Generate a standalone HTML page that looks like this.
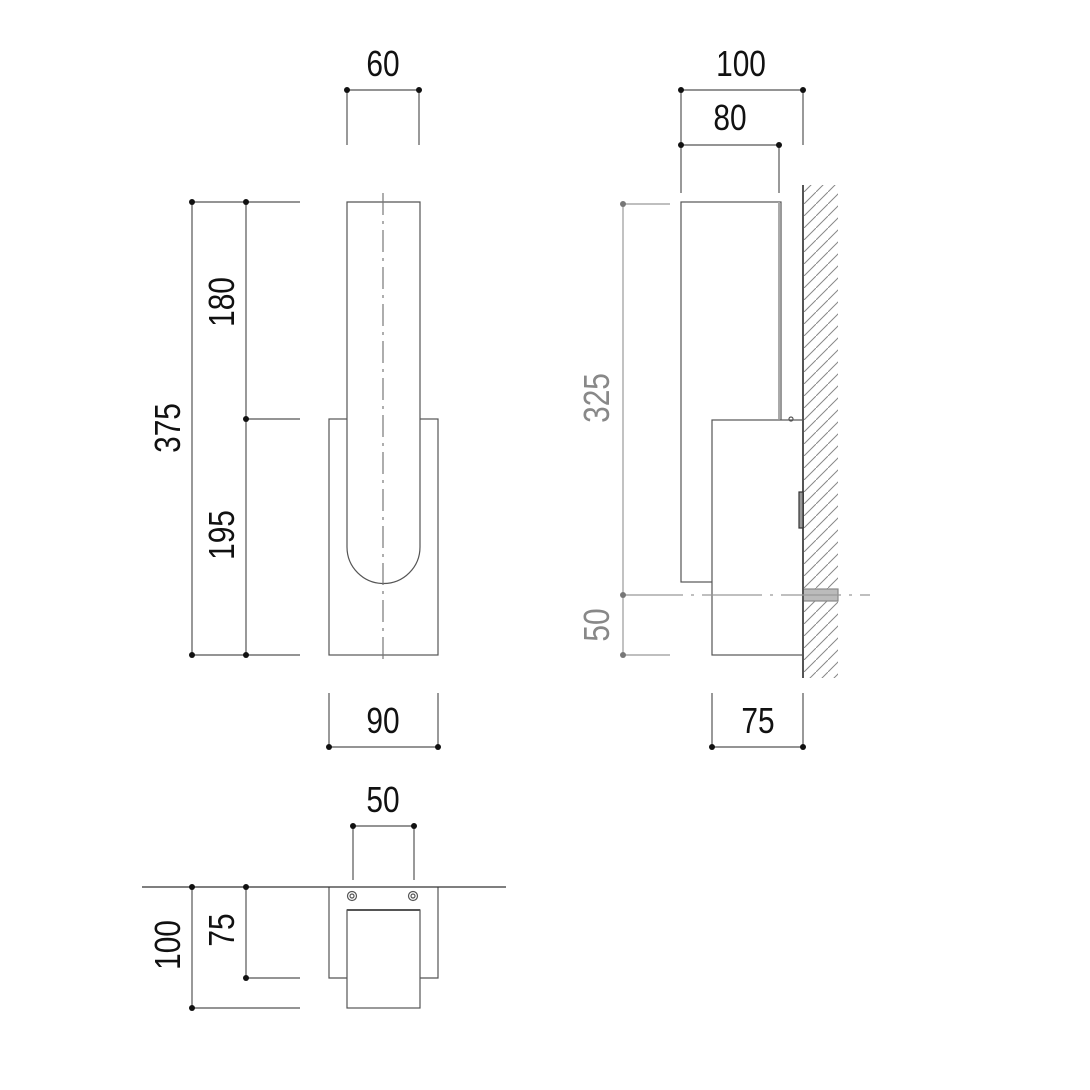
<!DOCTYPE html>
<html><head><style>body{margin:0;background:#fff}svg{display:block}text{font-family:"Liberation Sans",sans-serif;font-size:36px}</style></head>
<body>
<svg width="1090" height="1090" viewBox="0 0 1090 1090" xmlns="http://www.w3.org/2000/svg">
<defs>
<pattern id="h" width="12" height="12" patternUnits="userSpaceOnUse"><path d="M-3,15 L15,-3" stroke="#888" stroke-width="1"/></pattern>
</defs>
<g stroke="#555" stroke-width="1.2" fill="none">
<!-- front view -->
<rect x="329" y="419" width="109" height="236" fill="#fff"/>
<path d="M347,202 H420 V547 A36.5,36.5 0 0 1 347,547 Z" fill="#fff"/>
<line x1="383" y1="193" x2="383" y2="662" stroke-dasharray="22,6,3,6" stroke="#777"/>
<!-- 60 -->
<line x1="347" y1="90" x2="419" y2="90"/><line x1="347" y1="90" x2="347" y2="145"/><line x1="419" y1="90" x2="419" y2="145"/>
<!-- left dims -->
<line x1="192" y1="202" x2="192" y2="655"/><line x1="246" y1="202" x2="246" y2="655"/>
<line x1="192" y1="202" x2="300" y2="202"/><line x1="246" y1="419" x2="300" y2="419"/><line x1="192" y1="655" x2="300" y2="655"/>
<!-- 90 -->
<line x1="329" y1="747" x2="438" y2="747"/><line x1="329" y1="693" x2="329" y2="747"/><line x1="438" y1="693" x2="438" y2="747"/>
<!-- side view -->
<line x1="681" y1="90" x2="803" y2="90"/><line x1="681" y1="90" x2="681" y2="193"/><line x1="803" y1="90" x2="803" y2="145"/>
<line x1="681" y1="145" x2="779" y2="145"/><line x1="779" y1="145" x2="779" y2="193"/>
<rect x="803" y="185" width="35" height="493" fill="url(#h)" stroke="none"/>
<rect x="803" y="589" width="35" height="12" fill="#bbb" stroke="#888"/>
<rect x="681" y="202" width="100" height="380" fill="#fff"/>
<line x1="779" y1="202" x2="779" y2="419" stroke="#aaa" stroke-width="2"/>
<rect x="712" y="420" width="91" height="235" fill="#fff"/>
<line x1="803" y1="185" x2="803" y2="678" stroke="#555" stroke-width="2"/>
<rect x="799" y="492" width="4" height="36" fill="#999" stroke="#333"/>
<circle cx="791" cy="419" r="2" />
<g stroke="#999">
<line x1="623" y1="204" x2="623" y2="655"/>
<line x1="623" y1="204" x2="670" y2="204"/><line x1="623" y1="655" x2="670" y2="655"/>
<line x1="623" y1="595" x2="870" y2="595" stroke-dasharray="60,8,3,8"/>
</g>
<line x1="712" y1="747" x2="803" y2="747"/><line x1="712" y1="693" x2="712" y2="747"/><line x1="803" y1="693" x2="803" y2="747"/>
<!-- bottom view -->
<path d="M329,887 V978 H438 V887" fill="#fff"/>
<line x1="142" y1="887" x2="506" y2="887" stroke="#333"/>
<rect x="347" y="910" width="73" height="98" fill="#fff"/>
<line x1="347" y1="910" x2="420" y2="910" stroke-width="2"/>
<circle cx="352" cy="896" r="4.5"/><circle cx="352" cy="896" r="2"/>
<circle cx="413" cy="896" r="4.5"/><circle cx="413" cy="896" r="2"/>
<line x1="353" y1="826" x2="414" y2="826"/><line x1="353" y1="826" x2="353" y2="880"/><line x1="414" y1="826" x2="414" y2="880"/>
<line x1="192" y1="887" x2="192" y2="1008"/><line x1="246" y1="887" x2="246" y2="978"/>
<line x1="246" y1="978" x2="300" y2="978"/><line x1="192" y1="1008" x2="300" y2="1008"/>
</g>
<g fill="#111">
<circle cx="347" cy="90" r="3"/><circle cx="419" cy="90" r="3"/>
<circle cx="192" cy="202" r="3"/><circle cx="246" cy="202" r="3"/><circle cx="246" cy="419" r="3"/><circle cx="192" cy="655" r="3"/><circle cx="246" cy="655" r="3"/>
<circle cx="329" cy="747" r="3"/><circle cx="438" cy="747" r="3"/>
<circle cx="681" cy="90" r="3"/><circle cx="803" cy="90" r="3"/><circle cx="681" cy="145" r="3"/><circle cx="779" cy="145" r="3"/>
<circle cx="712" cy="747" r="3"/><circle cx="803" cy="747" r="3"/>
<circle cx="353" cy="826" r="3"/><circle cx="414" cy="826" r="3"/>
<circle cx="192" cy="887" r="3"/><circle cx="246" cy="887" r="3"/><circle cx="246" cy="978" r="3"/><circle cx="192" cy="1008" r="3"/>
</g>
<g fill="#777"><circle cx="623" cy="204" r="3"/><circle cx="623" cy="595" r="3"/><circle cx="623" cy="655" r="3"/></g>
<g fill="#111" text-anchor="middle">
<text transform="translate(383,76) scale(0.83,1)">60</text>
<text transform="translate(741,76) scale(0.83,1)">100</text>
<text transform="translate(730,130) scale(0.83,1)">80</text>
<text transform="translate(383,733) scale(0.83,1)">90</text>
<text transform="translate(758,733) scale(0.83,1)">75</text>
<text transform="translate(383,812) scale(0.83,1)">50</text>
<text transform="translate(180,428) rotate(-90) scale(0.83,1)">375</text>
<text transform="translate(234,302) rotate(-90) scale(0.83,1)">180</text>
<text transform="translate(234,535) rotate(-90) scale(0.83,1)">195</text>
<text transform="translate(180,945) rotate(-90) scale(0.83,1)">100</text>
<text transform="translate(234,930) rotate(-90) scale(0.83,1)">75</text>
<text fill="#888" transform="translate(609,398) rotate(-90) scale(0.83,1)">325</text>
<text fill="#888" transform="translate(609,625) rotate(-90) scale(0.83,1)">50</text>
</g>
</svg>
</body></html>
